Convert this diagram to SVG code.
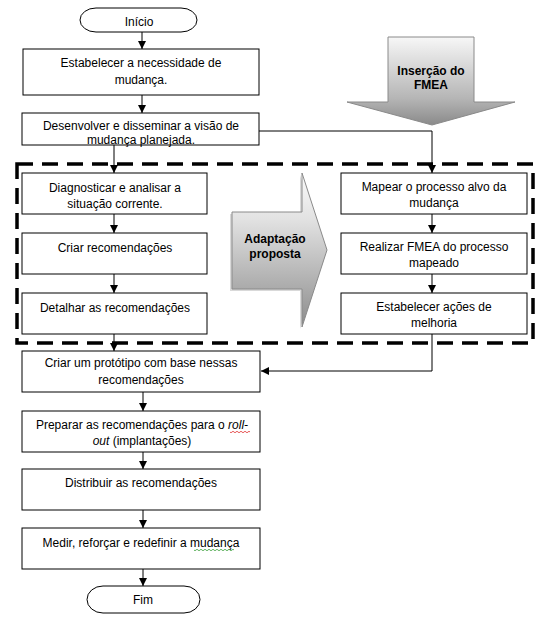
<svg xmlns="http://www.w3.org/2000/svg" width="550" height="623" viewBox="0 0 550 623">
<defs>
<style>
.box{fill:#fff;stroke:#000;stroke-width:1}
.t{font-family:"Liberation Sans",Arial,sans-serif;font-size:12px;fill:#000;text-anchor:middle}
.b{font-family:"Liberation Sans",Arial,sans-serif;font-size:12px;font-weight:bold;fill:#000;text-anchor:middle}
.c{fill:none;stroke:#000;stroke-width:1}
</style>
<marker id="ah" viewBox="0 0 8 8" refX="8" refY="4" markerWidth="8" markerHeight="8" markerUnits="userSpaceOnUse" orient="auto">
<path d="M0,0 L8,4 L0,8 Z" fill="#000"/>
</marker>
<linearGradient id="g1" gradientUnits="userSpaceOnUse" x1="0" y1="37" x2="0" y2="125">
<stop offset="0" stop-color="#f7f7f7"/>
<stop offset="0.7" stop-color="#b5b5b5"/>
<stop offset="1" stop-color="#8a8a8a"/>
</linearGradient>
<linearGradient id="g2" gradientUnits="userSpaceOnUse" x1="0" y1="173" x2="0" y2="327">
<stop offset="0" stop-color="#fbfbfb"/>
<stop offset="0.3" stop-color="#e2e2e2"/>
<stop offset="1" stop-color="#8c8c8c"/>
</linearGradient>
</defs>
<rect width="550" height="623" fill="#fff"/>

<g id="dashed-region">
<rect x="17" y="164" width="516" height="179" fill="none" stroke="#000" stroke-width="3.5" stroke-dasharray="16 9"/>
</g>

<g id="arrow-fmea">
<polygon points="388,37 474,37 474,102 515,102 432,125 347,102 388,102" fill="url(#g1)" stroke="#8a8a8a" stroke-width="1"/>
<text class="b" x="431" y="75">Inserção do</text>
<text class="b" x="431" y="89">FMEA</text>
</g>

<g id="arrow-adaptacao">
<polygon points="230,291 300,291 300,329 325,252 300,175 300,214 230,214" fill="#000" opacity="0.15"/>
<polygon points="232,212 302,212 302,173 327,250 302,327 302,289 232,289" fill="url(#g2)" stroke="#8a8a8a" stroke-width="1"/>
<text class="b" x="275" y="243">Adaptação</text>
<text class="b" x="275" y="258">proposta</text>
</g>

<g id="connectors">
<line class="c" x1="142" y1="32" x2="142" y2="49" marker-end="url(#ah)"/>
<line class="c" x1="142" y1="95" x2="142" y2="113" marker-end="url(#ah)"/>
<line class="c" x1="114" y1="145" x2="114" y2="173" marker-end="url(#ah)"/>
<polyline class="c" points="259,131 432,131 432,173" marker-end="url(#ah)"/>
<line class="c" x1="114" y1="214" x2="114" y2="233" marker-end="url(#ah)"/>
<line class="c" x1="114" y1="274" x2="114" y2="293" marker-end="url(#ah)"/>
<line class="c" x1="114" y1="334" x2="114" y2="351" marker-end="url(#ah)"/>
<line class="c" x1="432" y1="214" x2="432" y2="233" marker-end="url(#ah)"/>
<line class="c" x1="432" y1="274" x2="432" y2="293" marker-end="url(#ah)"/>
<polyline class="c" points="432,334 432,371 261,371" marker-end="url(#ah)"/>
<line class="c" x1="143" y1="392" x2="143" y2="411" marker-end="url(#ah)"/>
<line class="c" x1="143" y1="452" x2="143" y2="469" marker-end="url(#ah)"/>
<line class="c" x1="143" y1="510" x2="143" y2="528" marker-end="url(#ah)"/>
<line class="c" x1="143" y1="569" x2="143" y2="586" marker-end="url(#ah)"/>
</g>

<g id="inicio">
<rect class="box" x="80" y="8" width="117" height="24" rx="16" ry="12"/>
<text class="t" x="139" y="26">Início</text>
</g>
<g id="estabelecer-necessidade">
<rect class="box" x="23" y="49" width="236" height="46"/>
<text class="t" x="141" y="67">Estabelecer a necessidade de</text>
<text class="t" x="141" y="84">mudança.</text>
</g>
<g id="desenvolver-visao">
<rect class="box" x="22" y="113" width="237" height="32"/>
<text class="t" x="141" y="130">Desenvolver e disseminar a visão de</text>
<text class="t" x="141" y="144">mudança planejada.</text>
</g>
<g id="diagnosticar">
<rect class="box" x="22" y="173" width="185" height="41"/>
<text class="t" x="115" y="192">Diagnosticar e analisar a</text>
<text class="t" x="115" y="208">situação corrente.</text>
</g>
<g id="criar-recomendacoes">
<rect class="box" x="22" y="233" width="185" height="41"/>
<text class="t" x="115" y="252">Criar recomendações</text>
</g>
<g id="detalhar">
<rect class="box" x="22" y="293" width="185" height="41"/>
<text class="t" x="115" y="312">Detalhar as recomendações</text>
</g>
<g id="mapear">
<rect class="box" x="341" y="173" width="186" height="41"/>
<text class="t" x="434" y="191">Mapear o processo alvo da</text>
<text class="t" x="434" y="207">mudança</text>
</g>
<g id="realizar-fmea">
<rect class="box" x="341" y="233" width="186" height="41"/>
<text class="t" x="434" y="251">Realizar FMEA do processo</text>
<text class="t" x="434" y="267">mapeado</text>
</g>
<g id="estabelecer-acoes">
<rect class="box" x="341" y="293" width="186" height="41"/>
<text class="t" x="434" y="311">Estabelecer ações de</text>
<text class="t" x="434" y="327">melhoria</text>
</g>
<g id="prototipo">
<rect class="box" x="22" y="351" width="238" height="41"/>
<text class="t" x="141" y="367">Criar um protótipo com base nessas</text>
<text class="t" x="141" y="384">recomendações</text>
</g>
<g id="preparar">
<rect class="box" x="22" y="411" width="238" height="41"/>
<text class="t" x="142" y="429">Preparar as recomendações para o <tspan font-style="italic">roll-</tspan></text>
<text class="t" x="142" y="445"><tspan font-style="italic">out</tspan> (implantações)</text>
<path d="M230,432 q1,1.5 2,0 t2,0 t2,0 t2,0 t2,0 t2,0 t2,0 t2,0 t2,0 t2,0" fill="none" stroke="#e03030" stroke-width="0.8"/>
</g>
<g id="distribuir">
<rect class="box" x="22" y="469" width="238" height="41"/>
<text class="t" x="141" y="487">Distribuir as recomendações</text>
</g>
<g id="medir">
<rect class="box" x="22" y="528" width="238" height="41"/>
<text class="t" x="141" y="547">Medir, reforçar e redefinir a mudança</text>
<path d="M194,550 q1,1.5 2,0 t2,0 t2,0 t2,0 t2,0 t2,0 t2,0 t2,0 t2,0 t2,0 t2,0 t2,0 t2,0 t2,0 t2,0 t2,0 t2,0 t2,0 t2,0 t2,0" fill="none" stroke="#3aa03a" stroke-width="0.8"/>
</g>
<g id="fim">
<rect class="box" x="87" y="586" width="113" height="27" rx="16" ry="13.5"/>
<text class="t" x="143" y="604">Fim</text>
</g>
</svg>
